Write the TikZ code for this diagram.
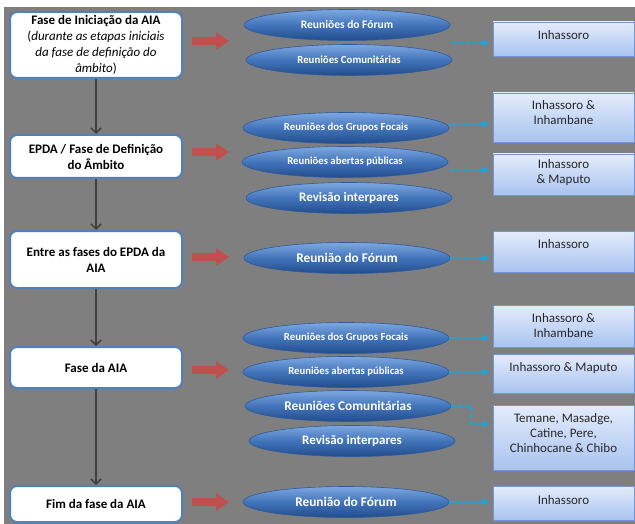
\documentclass[tikz,border=0pt]{standalone}
\usepackage{fontspec}
\setmainfont{Carlito}
\usetikzlibrary{arrows.meta,shadows,shapes.geometric}
\definecolor{bg}{RGB}{127,127,127}
\definecolor{phaseblue}{RGB}{79,129,189}
\definecolor{redarr}{RGB}{192,80,77}
\definecolor{darrow}{RGB}{64,64,64}
\definecolor{cyanline}{RGB}{10,170,235}
\definecolor{elltop}{RGB}{125,168,226}
\definecolor{ellmid}{RGB}{66,116,186}
\definecolor{ellbot}{RGB}{34,76,140}
\definecolor{elledge}{RGB}{45,90,155}
\definecolor{boxtop}{RGB}{228,236,251}
\definecolor{boxbot}{RGB}{168,195,240}
\definecolor{boxedge}{RGB}{115,150,212}
\definecolor{boxtext}{RGB}{40,40,40}
\begin{document}
\begin{tikzpicture}[x=1pt,y=-1pt,
  phase/.style={draw=phaseblue, line width=2pt, fill=white, rounded corners=7pt,
    minimum width=172pt, inner sep=0pt, align=center, text=black,
    font=\bfseries\fontsize{13}{16}\selectfont},
  meet/.style={ellipse, draw=elledge, line width=0.6pt, top color=elltop,
    bottom color=ellbot, middle color=ellmid, minimum width=206pt,
    minimum height=31pt, inner sep=0pt, text=white,
    drop shadow={opacity=0.35, shadow xshift=0pt, shadow yshift=-2.5pt}},
  place/.style={draw=boxedge, line width=0.8pt, top color=boxtop,
    bottom color=boxbot, minimum width=141pt, inner sep=0pt,
    drop shadow={opacity=0.35, shadow xshift=1pt, shadow yshift=-1.5pt}},
  placetext/.style={font=\fontsize{13}{15}\selectfont, align=center,
    text=boxtext, inner sep=0pt},
  flow/.style={draw=darrow, line width=1.5pt, -{Straight Barb[length=5pt,width=10pt]}},
  push/.style={draw=redarr, line width=8pt, -{Triangle[length=13pt,width=17pt]}},
  link/.style={draw=cyanline, line width=1.3pt, dash pattern=on 4pt off 3pt,
    -{Triangle[length=6pt,width=6.5pt]}, shorten >=4pt}
]
\useasboundingbox (0,0) rectangle (635,524);
\fill[white] (0,0) rectangle (635,524);
\fill[bg] (4,7) rectangle (635,524);

% phase boxes
\node[phase, minimum height=66pt] (b1) at (96,45)
  {Fase de Iniciação da AIA\\ \mdseries(\textit{durante as etapas iniciais}\\
   \mdseries\textit{da fase de definição do}\\ \mdseries\textit{âmbito})};
\node[phase, minimum height=43pt] (b2) at (96,156.5) {EPDA / Fase de Definição\\do Âmbito};
\node[phase, minimum height=57pt] (b3) at (96,259.5) {Entre as fases do EPDA da\\AIA};
\node[phase, minimum height=41pt] (b4) at (96,367.5) {Fase da AIA};
\node[phase, minimum height=36pt] (b5) at (96,504) {Fim da fase da AIA};

\draw[flow] (b1.south) -- (b2.north);
\draw[flow] (b2.south) -- (b3.north);
\draw[flow] (b3.south) -- (b4.north);
\draw[flow] (b4.south) -- (b5.north);

% red arrows
\coordinate (r1s) at (192,41);  \coordinate (r1e) at (229,41);
\coordinate (r2s) at (192,152); \coordinate (r2e) at (229,152);
\coordinate (r3s) at (192,257); \coordinate (r3e) at (229,257);
\coordinate (r4s) at (192,370); \coordinate (r4e) at (229,370);
\coordinate (r5s) at (192,502); \coordinate (r5e) at (229,502);
\draw[push] (r1s) -- (r1e);
\draw[push] (r2s) -- (r2e);
\draw[push] (r3s) -- (r3e);
\draw[push] (r4s) -- (r4e);
\draw[push] (r5s) -- (r5e);

% meetings
\node[meet, font=\bfseries\fontsize{11.5}{13}\selectfont] (e1) at (347,25) {Reuniões do Fórum};
\node[meet, font=\bfseries\fontsize{10.8}{13}\selectfont] (e2) at (349,60) {Reuniões Comunitárias};
\node[meet, font=\bfseries\fontsize{10.8}{13}\selectfont] (e3) at (346,128) {Reuniões dos Grupos Focais};
\node[meet, font=\bfseries\fontsize{10.7}{13}\selectfont] (e4) at (345,162) {Reuniões abertas públicas};
\node[meet, font=\bfseries\fontsize{13}{15}\selectfont] (e5) at (349,198) {Revisão interpares};
\node[meet, font=\bfseries\fontsize{13.3}{15}\selectfont] (e6) at (347,258) {Reunião do Fórum};
\node[meet, font=\bfseries\fontsize{10.8}{13}\selectfont] (e7) at (346,338) {Reuniões dos Grupos Focais};
\node[meet, font=\bfseries\fontsize{10.7}{13}\selectfont] (e8) at (346,372) {Reuniões abertas públicas};
\node[meet, font=\bfseries\fontsize{13.3}{15}\selectfont] (e9) at (348,406) {Reuniões Comunitárias};
\node[meet, font=\bfseries\fontsize{13}{15}\selectfont] (e10) at (352,441) {Revisão interpares};
\node[meet, font=\bfseries\fontsize{13.3}{15}\selectfont] (e11) at (346,502) {Reunião do Fórum};

% places
\node[place, minimum height=34pt] (p1) at (563.5,39) {};
\node[place, minimum height=49pt] (p2) at (563.5,117.5) {};
\node[place, minimum height=41pt] (p3) at (563.5,174.5) {};
\node[place, minimum height=41pt] (p4) at (563.5,251.5) {};
\node[place, minimum height=42pt] (p5) at (563.5,326) {};
\node[place, minimum height=39pt] (p6) at (563.5,373.5) {};
\node[place, minimum height=65pt] (p7) at (563.5,437.5) {};
\node[place, minimum height=34pt] (p8) at (563.5,503) {};

\node[placetext] (t1) at (563.5,35) {Inhassoro};
\node[placetext] (t2) at (563.5,113) {Inhassoro \&\\Inhambane};
\node[placetext] (t3) at (563.5,173) {Inhassoro\\\& Maputo};
\node[placetext] (t4) at (563.5,244) {Inhassoro};
\node[placetext] (t5) at (563.5,325.5) {Inhassoro \&\\Inhambane};
\node[placetext] (t6) at (563.5,368) {Inhassoro \& Maputo};
\node[placetext] (t7) at (563.5,433) {Temane, Masadge,\\Catine, Pere,\\Chinhocane \& Chibo};
\node[placetext] (t8) at (563.5,500) {Inhassoro};

% links
\coordinate (c1) at (452,43);
\coordinate (c2) at (450,124);
\coordinate (c3) at (450,170);
\coordinate (c7) at (471,424);
\draw[link] (c1) -- (c1 -| p1.west);
\draw[link] (c2) -- (c2 -| p2.west);
\draw[link] (c3) -- (c3 -| p3.west);
\draw[link] (e6.east) -- (e6.east -| p4.west);
\draw[link] (e7.east) -- (e7.east -| p5.west);
\draw[link] (e8.east) -- (e8.east -| p6.west);
\draw[link] (e9.east) -| (c7) -- (c7 -| p7.west);
\draw[link] (e11.east) -- (e11.east -| p8.west);
\end{tikzpicture}
\end{document}
